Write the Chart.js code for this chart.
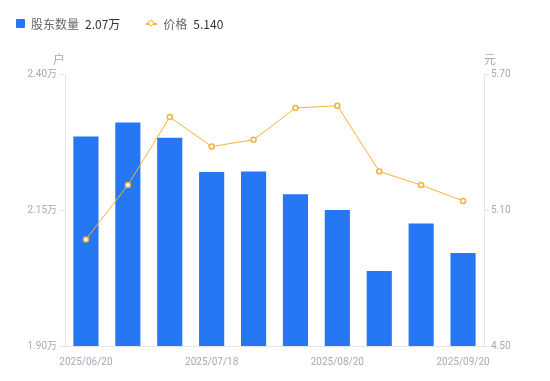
<!DOCTYPE html>
<html>
<head>
<meta charset="utf-8">
<script src="https://cdn.jsdelivr.net/npm/chart.js@4"></script>
<style>
  html, body { margin: 0; padding: 0; background: #fff; }
  #wrap { position: relative; width: 550px; height: 381px; font-family: "Noto Sans CJK SC", "Noto Sans", sans-serif; }
  #legend { position: absolute; left: 16px; top: 15px; font-size: 12px; color: #666; display: flex; align-items: center; white-space: nowrap; }
  #legend .item { display: flex; align-items: center; margin-right: 26px; }
  #legend .sq { width: 9px; height: 9px; background: #2677f4; border-radius: 1px; margin-right: 6px; }
  #legend .ln { position: relative; width: 11px; height: 2px; background: #f5b236; margin-right: 6px; }
  #legend .ln::after { content: ""; position: absolute; left: 2px; top: -2.5px; width: 4px; height: 4px; border: 1.5px solid #f5b236; background: #fff; border-radius: 50%; }
  #legend .val { color: #333; margin-left: 6px; }
</style>
</head>
<body>
<div id="wrap">
  <canvas id="c" width="550" height="381"></canvas>
  <div id="legend"></div>
</div>
<script>
const dates = ['2025/06/20', '2025/06/30', '2025/07/10', '2025/07/18', '2025/07/31',
               '2025/08/10', '2025/08/20', '2025/08/31', '2025/09/10', '2025/09/20'];
const holders = [2.285, 2.311, 2.283, 2.220, 2.221, 2.179, 2.150, 2.038, 2.125, 2.071];
const prices = [4.97, 5.21, 5.51, 5.38, 5.41, 5.55, 5.56, 5.27, 5.21, 5.14];
const leftTicks = [1.90, 2.15, 2.40];
const rightTicks = [4.50, 5.10, 5.70];

const blue = '#2677f4';
const orange = '#f5b236';
const axisColor = '#e3e5ea';
const tickColor = '#a6a9b6';

document.getElementById('legend').innerHTML =
  '<span class="item"><span class="sq"></span>股东数量<span class="val">' + holders[holders.length - 1].toFixed(2) + '万</span></span>' +
  '<span class="item"><span class="ln"></span>价格<span class="val">' + prices[prices.length - 1].toFixed(3) + '</span></span>';

// unit titles drawn flat above each y axis
const unitTitles = {
  id: 'unitTitles',
  afterDraw(chart) {
    const ctx = chart.ctx;
    const top = chart.chartArea.top;
    ctx.save();
    ctx.font = '12px "Noto Sans CJK SC", sans-serif';
    ctx.fillStyle = tickColor;
    ctx.textBaseline = 'bottom';
    ctx.textAlign = 'center';
    ctx.fillText('户', chart.scales.y.right - 6, top - 9);
    ctx.fillText('元', chart.scales.y1.left + 6, top - 9);
    ctx.restore();
  }
};

new Chart(document.getElementById('c'), {
  data: {
    labels: dates,
    datasets: [{
      type: 'line',
      label: '价格',
      data: prices,
      yAxisID: 'y1',
      borderColor: orange,
      borderWidth: 1,
      tension: 0,
      pointRadius: 2.5,
      pointBorderWidth: 1.5,
      pointBackgroundColor: '#fff',
      pointBorderColor: orange,
      order: 0
    }, {
      type: 'bar',
      label: '股东数量',
      data: holders,
      yAxisID: 'y',
      backgroundColor: blue,
      barPercentage: 0.6,
      categoryPercentage: 1,
      order: 1
    }]
  },
  options: {
    responsive: false,
    animation: false,
    layout: { padding: { top: 74, left: 0, right: 0, bottom: 0 } },
    plugins: { legend: { display: false }, tooltip: { enabled: false } },
    scales: {
      x: {
        grid: { display: false },
        border: { display: true, color: axisColor },
        afterFit: s => { s.height = 35; },
        ticks: {
          autoSkip: false,
          maxRotation: 0,
          color: tickColor,
          font: { size: 10, family: 'Roboto, "Noto Sans", sans-serif' },
          padding: 2,
          callback: (v, i) => (i % 3 === 0 ? dates[i] : '')
        }
      },
      y: {
        position: 'left',
        min: 1.90,
        max: 2.40,
        afterFit: s => { s.width = 65; },
        afterBuildTicks: s => { s.ticks = leftTicks.map(v => ({ value: v })); },
        grid: { drawOnChartArea: false, drawTicks: true, tickLength: 5, color: axisColor },
        border: { display: true, color: axisColor },
        ticks: {
          color: tickColor,
          font: { size: 10, family: 'Roboto, "Noto Sans CJK SC", sans-serif' },
          padding: 3,
          callback: v => v.toFixed(2) + '万'
        }
      },
      y1: {
        position: 'right',
        min: 4.50,
        max: 5.70,
        afterFit: s => { s.width = 66; },
        afterBuildTicks: s => { s.ticks = rightTicks.map(v => ({ value: v })); },
        grid: { drawOnChartArea: false, drawTicks: true, tickLength: 5, color: axisColor },
        border: { display: true, color: axisColor },
        ticks: {
          color: tickColor,
          font: { size: 10, family: 'Roboto, "Noto Sans", sans-serif' },
          padding: 2,
          callback: v => v.toFixed(2)
        }
      }
    }
  },
  plugins: [unitTitles]
});
</script>
</body>
</html>
